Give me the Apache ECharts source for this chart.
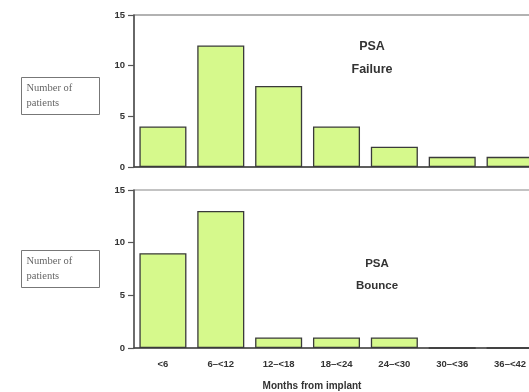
<!DOCTYPE html>
<html>
<head>
<meta charset="utf-8">
<script src="https://cdn.jsdelivr.net/npm/echarts@6/dist/echarts.min.js"></script>
<style>
  html, body { margin: 0; padding: 0; background: #fff; }
  #chart { width: 529px; height: 392px; }
</style>
</head>
<body>
<div id="chart"></div>
<script>
// Time intervals after implant (months)
const categories = ['<6', '6–<12', '12–<18', '18–<24', '24–<30', '30–<36', '36–<42'];
// Patients per interval
const failureCounts = [4, 12, 8, 4, 2, 1, 1];
const bounceCounts = [9, 13, 1, 1, 1, 0, 0];
const yTicks = { min: 0, max: 15, interval: 5 };

const barColor = '#d6f98c';
const edgeColor = '#3a3a3a';

const chart = echarts.init(document.getElementById('chart'), null, { renderer: 'canvas' });

function yAxis(gridIndex) {
  return {
    gridIndex, type: 'value', min: yTicks.min, max: yTicks.max, interval: yTicks.interval,
    axisLine: { show: true, lineStyle: { color: '#555', width: 1.5 } },
    axisTick: { show: true, length: 6, lineStyle: { color: '#555', width: 1.2 } },
    axisLabel: { color: '#333', fontSize: 9.5, fontWeight: 'bold', fontFamily: 'Liberation Sans', margin: 9 },
    splitLine: { show: false }
  };
}
function xAxis(gridIndex, showLabels) {
  return {
    gridIndex, type: 'category', data: categories,
    axisLine: { show: true, lineStyle: { color: '#444', width: 1.5 } },
    axisTick: { show: false },
    axisLabel: {
      show: showLabels, interval: 0, color: '#333', fontSize: 9.5, fontWeight: 'bold',
      fontFamily: 'Liberation Sans', margin: 11
    }
  };
}
function barSeries(idx, values) {
  return {
    type: 'bar', xAxisIndex: idx, yAxisIndex: idx, data: values,
    barCategoryGap: '18.7%',
    itemStyle: { color: barColor, borderColor: edgeColor, borderWidth: 1.3 },
    silent: true
  };
}
function labelBox(y) {
  return {
    type: 'group', left: 21, top: y,
    children: [
      { type: 'rect', shape: { x: 0, y: 0, width: 78, height: 37 },
        style: { fill: '#fff', stroke: '#777', lineWidth: 1 } },
      { type: 'text', x: 5, y: 5,
        style: { text: 'Number of', fill: '#666', font: '10.5px "Liberation Serif"' } },
      { type: 'text', x: 5, y: 20,
        style: { text: 'patients', fill: '#666', font: '10.5px "Liberation Serif"' } }
    ]
  };
}
function centered(x, y, text, size) {
  return {
    type: 'text', x, y,
    style: { text, fill: '#333', font: 'bold ' + size + 'px "Liberation Sans"', align: 'center', textAlign: 'center', verticalAlign: 'middle', textVerticalAlign: 'middle' }
  };
}

chart.setOption({
  animation: false,
  grid: [
    { left: 134, top: 15, width: 405, height: 152, show: true, borderColor: '#666', borderWidth: 1.2, outerBoundsMode: 'none' },
    { left: 134, top: 190, width: 405, height: 158, show: true, borderColor: '#888', borderWidth: 1.2, outerBoundsMode: 'none' }
  ],
  xAxis: [xAxis(0, false), xAxis(1, true)],
  yAxis: [yAxis(0), yAxis(1)],
  series: [barSeries(0, failureCounts), barSeries(1, bounceCounts)],
  graphic: [
    labelBox(77),
    labelBox(250),
    centered(372, 47, 'PSA', 12.5),
    centered(372, 70, 'Failure', 12.5),
    centered(377, 264, 'PSA', 11.5),
    centered(377, 286, 'Bounce', 11.5),
    centered(312, 386, 'Months from implant', 10)
  ]
});
</script>
</body>
</html>
